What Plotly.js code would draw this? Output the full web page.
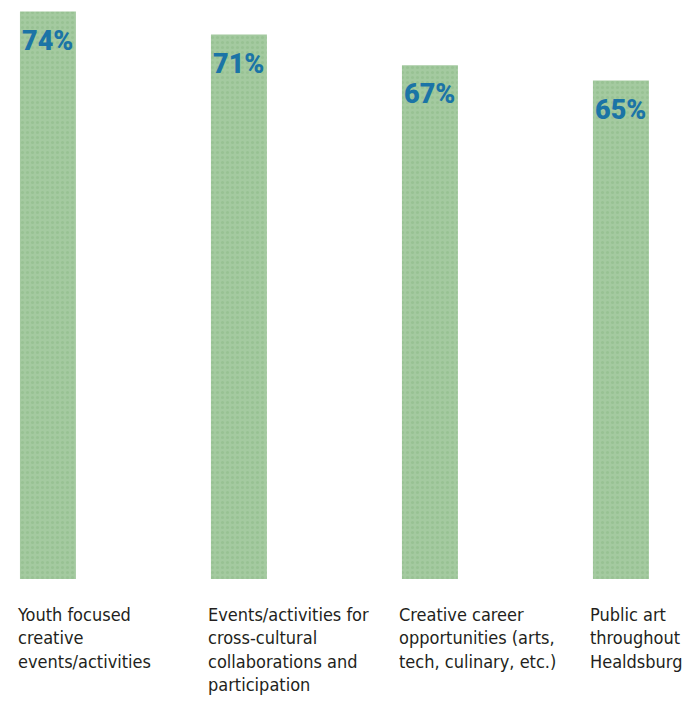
<!DOCTYPE html>
<html>
<head>
<meta charset="utf-8">
<script src="https://cdn.plot.ly/plotly-3.0.1.min.js"></script>
<style>html,body{margin:0;padding:0;background:#fff;}#chart{width:687px;height:701px;}</style>
</head>
<body>
<div id="chart"></div>
<script>
const categories = [
  "Youth focused<br>creative<br>events/activities",
  "Events/activities for<br>cross-cultural<br>collaborations and<br>participation",
  "Creative career<br>opportunities (arts,<br>tech, culinary, etc.)",
  "Public art<br>throughout<br>Healdsburg"
];
const values = [74, 71, 67, 65];
const valueLabels = ["74%", "71%", "67%", "65%"];

const xs = categories.map((c, i) => i);
const BAR_W = 0.293;

const trace = {
  type: 'bar',
  x: xs,
  y: values,
  width: BAR_W,
  marker: {
    color: '#a2c99d',
    line: {width: 0},
    pattern: {shape: '.', fgcolor: '#98c293', bgcolor: '#a4caa0', size: 5, solidity: 0.3}
  },
  hoverinfo: 'skip'
};

const annotations = [];
values.forEach((v, i) => {
  annotations.push({
    x: i, y: v, xref: 'x', yref: 'y',
    text: valueLabels[i], showarrow: false,
    xanchor: 'center', yanchor: 'top', yshift: -11,
    font: {family: 'Roboto', size: 27, weight: 900, color: '#1b74a6'}
  });
  annotations.push({
    x: i - BAR_W / 2, y: 0, xref: 'x', yref: 'paper',
    text: categories[i], showarrow: false,
    xanchor: 'left', yanchor: 'top', align: 'left', yshift: -23, xshift: -5,
    font: {family: '"DejaVu Sans Condensed", Roboto, sans-serif', size: 18, color: '#231f20'}
  });
});

const layout = {
  width: 687, height: 701,
  margin: {l: 0, r: 0, t: 0, b: 122},
  paper_bgcolor: '#ffffff', plot_bgcolor: '#ffffff',
  showlegend: false,
  xaxis: {range: [-0.251, 3.346], showgrid: false, zeroline: false, showticklabels: false, ticks: '', showline: false},
  yaxis: {range: [0, 75.5], showgrid: false, zeroline: false, showticklabels: false, ticks: '', showline: false},
  annotations: annotations
};

Plotly.newPlot('chart', [trace], layout, {displayModeBar: false, staticPlot: true});
</script>
</body>
</html>
